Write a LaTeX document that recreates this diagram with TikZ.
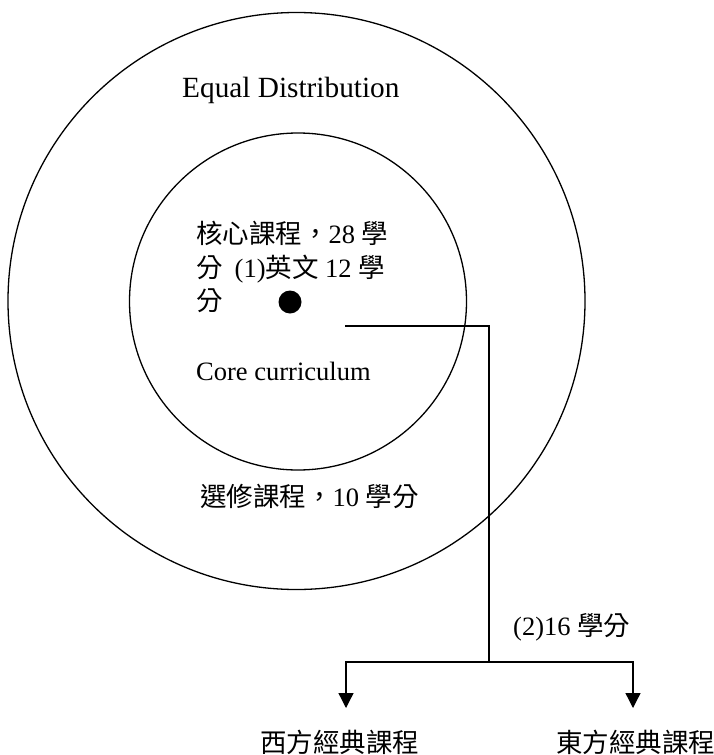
\documentclass[tikz,border=0pt]{standalone}
\usepackage{fontspec}
\setmainfont{Liberation Serif}
\newfontfamily\cjk{Noto Sans CJK TC}
\usetikzlibrary{arrows.meta}
\begin{document}
\begin{tikzpicture}[x=1pt,y=-1pt,
  ring/.style={circle,draw,line width=1.3pt,inner sep=0pt},
  lbl/.style={anchor=base west,inner sep=0pt,font=\fontsize{26.5}{33.5}\selectfont},
  conn/.style={line width=1.3pt},
  arr/.style={line width=1.3pt,-{Triangle[length=15pt,width=15pt]}}]
\useasboundingbox (0,0) rectangle (714,755);
\node[ring,minimum size=577pt] (outer) at (296.5,301) {};
\node[ring,minimum size=337pt] (inner) at (298,301.5) {};
\node[circle,fill,inner sep=0pt,minimum size=23pt] (dot) at (290,302) {};
\node[lbl,font=\fontsize{29.3}{34}\selectfont] (equal) at (182,97) {Equal Distribution};
\node[lbl] (core1) at (196,243) {{\cjk 核心課程，}28 {\cjk 學}};
\node[lbl] (core2) at (196,277) {{\cjk 分}\hspace{12pt}(1){\cjk 英文} 12 {\cjk 學}};
\node[lbl] (core3) at (196,310) {{\cjk 分}};
\node[lbl] (corecur) at (196,380) {Core curriculum};
\node[lbl] (elective) at (200,506) {{\cjk 選修課程，}10 {\cjk 學分}};
\node[lbl] (sixteen) at (513,635) {(2)16 {\cjk 學分}};
\node[lbl] (west) at (260,752) {{\cjk 西方經典課程}};
\node[lbl] (east) at (556,752) {{\cjk 東方經典課程}};
\coordinate (cstart) at (345,326);
\coordinate (branch) at (489,662);
\coordinate (wend) at (346,708);
\coordinate (eend) at (633,708);
\draw[conn] (cstart) -| (branch);
\draw[arr] (branch) -| (wend);
\draw[arr] (branch) -| (eend);
\end{tikzpicture}
\end{document}
